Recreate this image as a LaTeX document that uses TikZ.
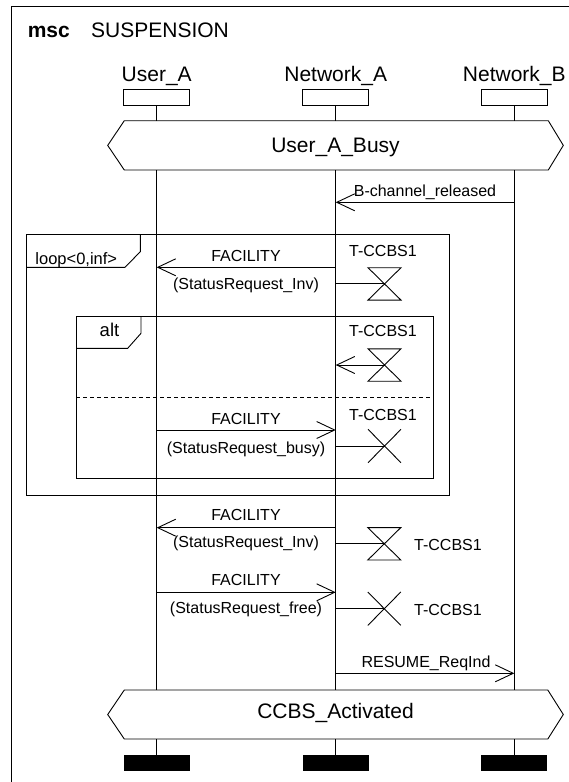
\documentclass[tikz,border=0pt]{standalone}
\usepackage{fontspec}
\setmainfont{Liberation Sans}
\usetikzlibrary{arrows.meta}
\begin{document}
\begin{tikzpicture}[x=1pt,y=-1pt, line width=0.9pt,
  bigtext/.style={font=\fontsize{21}{25}\selectfont, inner sep=0pt, anchor=base},
  lbl/.style={font=\fontsize{16}{19}\selectfont, inner sep=0pt, anchor=base},
  headbox/.style={draw, minimum width=66pt, minimum height=15.7pt, inner sep=0pt},
  endbar/.style={fill=black, minimum width=66pt, minimum height=16pt, inner sep=0pt},
  msgarrow/.style={-{Straight Barb[length=18pt,width=17pt,line width=0.9pt]}},
  mschg/.pic={\draw (-16.5,-16.2) -- (16.5,-16.2) -- (-16.5,16.2) -- (16.5,16.2) -- cycle;},
  mscx/.pic={\draw (-16.5,-16.7) -- (16.5,16.7) (16.5,-16.7) -- (-16.5,16.7);},
]
\useasboundingbox (0,0) rectangle (569,782);
% outer frame
\draw (11,782) -- (11,6.7) -- (569,6.7);
\node[bigtext, anchor=base west, font=\fontsize{21}{25}\selectfont\bfseries] (msc) at (27.3,37.7) {msc};
\node[bigtext, anchor=base west] (title) at (90.7,37.7) {SUSPENSION};

% instance heads
\node[headbox] (hUA) at (156.7,97.2) {};
\node[headbox] (hNA) at (335.7,97.2) {};
\node[headbox] (hNB) at (514.3,97.2) {};
\node[bigtext] (tUA) at (156.7,81.7) {User\_A};
\node[bigtext] (tNA) at (335.7,81.7) {Network\_A};
\node[bigtext] (tNB) at (514.3,81.7) {Network\_B};

% condition 1
\draw (124.3,120.7) -- (548.3,120.7) -- (563.3,145.4) -- (548.3,170) -- (124.3,170) -- (107.7,145.4) -- cycle;
\node[bigtext] (cond1) at (335.5,152) {User\_A\_Busy};
\coordinate (c1tUA) at (156.7,120.7); \coordinate (c1tNA) at (335.7,120.7); \coordinate (c1tNB) at (514.3,120.7);
\coordinate (c1bUA) at (156.7,170);   \coordinate (c1bNA) at (335.7,170);   \coordinate (c1bNB) at (514.3,170);

% condition 2
\draw (124.3,690) -- (547.8,690) -- (563.3,714.5) -- (547.8,739) -- (124.3,739) -- (107.7,714.5) -- cycle;
\node[bigtext] (cond2) at (335.5,718.3) {CCBS\_Activated};
\coordinate (c2tUA) at (156.7,690); \coordinate (c2tNA) at (335.7,690); \coordinate (c2tNB) at (514.3,690);
\coordinate (c2bUA) at (156.7,739); \coordinate (c2bNA) at (335.7,739); \coordinate (c2bNB) at (514.3,739);

% end bars
\node[endbar] (eUA) at (156.7,763) {};
\node[endbar] (eNA) at (335.7,763) {};
\node[endbar] (eNB) at (514.3,763) {};

% lifelines
\draw (hUA.south) -- (c1tUA); \draw (hNA.south) -- (c1tNA); \draw (hNB.south) -- (c1tNB);
\draw (c1bUA) -- (c2tUA); \draw (c1bNA) -- (c2tNA); \draw (c1bNB) -- (c2tNB);
\draw (c2bUA) -- (eUA.north); \draw (c2bNA) -- (eNA.north); \draw (c2bNB) -- (eNB.north);

% loop frame
\draw (26.7,234.3) rectangle (449,495);
\draw (26.7,267.3) -- (125,267.3) -- (140.3,251.7) -- (140.3,234.3);
\node[lbl, anchor=base west, font=\fontsize{16.5}{19}\selectfont] (looplbl) at (35,264.3) {loop<0,inf>};

% alt frame
\draw (76,316.7) rectangle (433.3,478.3);
\draw (76,348.3) -- (127.7,348.3) -- (141,333.3) -- (141,316.7);
\node[lbl, font=\fontsize{18.5}{22}\selectfont] (altlbl) at (109.5,336.7) {alt};
\draw[dash pattern=on 4pt off 3pt] (76,397.3) -- (433.3,397.3);

% message 0
\coordinate (m0s) at (514.3,202.3); \coordinate (m0e) at (335.7,202.3);
\draw[msgarrow] (m0s) -- (m0e);
\node[lbl] (m0l) at (425,196.7) {B-channel\_released};

% message 1
\coordinate (m1s) at (335.7,267.3); \coordinate (m1e) at (156.7,267.3);
\draw[msgarrow] (m1s) -- (m1e);
\node[lbl] (m1a) at (246,261.7) {FACILITY};
\node[lbl] (m1b) at (246,289) {(StatusRequest\_Inv)};

% timer 1 start
\pic at (384.5,283.9) {mschg};
\coordinate (t1c) at (384.5,283.9); \coordinate (t1s) at (335.7,283.9);
\draw (t1s) -- (t1c);
\node[lbl] (t1l) at (383,256.7) {T-CCBS1};

% timer 2 timeout
\pic at (384.5,365) {mschg};
\coordinate (t2c) at (384.5,365); \coordinate (t2e) at (335.7,365);
\draw[msgarrow] (t2c) -- (t2e);
\node[lbl] (t2l) at (383,336.7) {T-CCBS1};

% message 2
\coordinate (m2s) at (156.7,430); \coordinate (m2e) at (335.7,430);
\draw[msgarrow] (m2s) -- (m2e);
\node[lbl] (m2a) at (246,424) {FACILITY};
\node[lbl] (m2b) at (246,453) {(StatusRequest\_busy)};

% timer 3 stop
\pic at (384.5,446) {mscx};
\coordinate (t3c) at (384.5,446); \coordinate (t3s) at (335.7,446);
\draw (t3s) -- (t3c);
\node[lbl] (t3l) at (383,420) {T-CCBS1};

% message 3
\coordinate (m3s) at (335.7,527.7); \coordinate (m3e) at (156.7,527.7);
\draw[msgarrow] (m3s) -- (m3e);
\node[lbl] (m3a) at (246,520.7) {FACILITY};
\node[lbl] (m3b) at (246,547.7) {(StatusRequest\_Inv)};

% timer 4 start
\pic at (384.3,543.8) {mschg};
\coordinate (t4c) at (384.3,543.8); \coordinate (t4s) at (335.7,543.8);
\draw (t4s) -- (t4c);
\node[lbl] (t4l) at (448,550) {T-CCBS1};

% message 4
\coordinate (m4s) at (156.7,592.3); \coordinate (m4e) at (335.7,592.3);
\draw[msgarrow] (m4s) -- (m4e);
\node[lbl] (m4a) at (246,585.7) {FACILITY};
\node[lbl] (m4b) at (246,613.3) {(StatusRequest\_free)};

% timer 5 stop
\pic at (384.3,608.7) {mscx};
\coordinate (t5c) at (384.3,608.7); \coordinate (t5s) at (335.7,608.7);
\draw (t5s) -- (t5c);
\node[lbl] (t5l) at (448,615) {T-CCBS1};

% message 5
\coordinate (m5s) at (335.7,673.3); \coordinate (m5e) at (514.3,673.3);
\draw[msgarrow] (m5s) -- (m5e);
\node[lbl] (m5l) at (426,667.3) {RESUME\_ReqInd};
\end{tikzpicture}
\end{document}
